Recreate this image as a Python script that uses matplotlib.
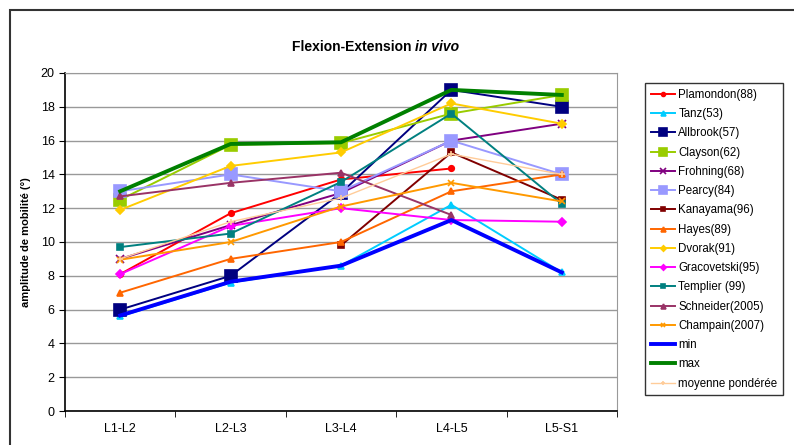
import numpy as np
import matplotlib.pyplot as plt
from matplotlib.patches import Rectangle

plt.rcParams['font.family'] = ['Liberation Sans', 'DejaVu Sans']

nan = np.nan
levels = ['L1-L2', 'L2-L3', 'L3-L4', 'L4-L5', 'L5-S1']

plamondon = [8.1, 11.7, 13.7, 14.35, nan]
tanz = [5.6, 7.6, 8.6, 12.2, 8.2]
allbrook = [6.0, 8.0, 12.9, 19.0, 18.0]
clayson = [12.5, 15.75, 15.85, 17.6, 18.7]
frohning = [9.0, 11.0, 12.9, 16.0, 17.0]
pearcy = [13.0, 14.0, 13.0, 16.0, 14.0]
kanayama = [nan, nan, 9.8, 15.3, 12.5]
hayes = [7.0, 9.0, 10.0, 13.0, 14.0]
dvorak = [11.9, 14.5, 15.3, 18.2, 17.0]
gracovetski = [8.1, 10.95, 12.0, 11.3, 11.2]
templier = [9.7, 10.5, 13.55, 17.6, 12.25]
schneider = [12.7, 13.5, 14.1, 11.6, nan]
champain = [8.95, 10.0, 12.1, 13.5, 12.4]
serie_min = [5.65, 7.65, 8.6, 11.3, 8.2]
serie_max = [13.0, 15.8, 15.9, 19.0, 18.7]
moyenne = [9.0, 11.2, 12.6, 15.2, 14.0]

# name, values, colour, marker, marker size, line width
series = [
    ('Plamondon(88)', plamondon, '#FF0000', 'o', 4, 1.4),
    ('Tanz(53)', tanz, '#00CCFF', '^', 5, 1.4),
    ('Allbrook(57)', allbrook, '#000080', 's', 8, 1.4),
    ('Clayson(62)', clayson, '#99CC00', 's', 8, 1.4),
    ('Frohning(68)', frohning, '#800080', 'x', 6, 1.4),
    ('Pearcy(84)', pearcy, '#9999FF', 's', 8, 1.4),
    ('Kanayama(96)', kanayama, '#800000', 's', 5, 1.4),
    ('Hayes(89)', hayes, '#FF6600', '^', 5, 1.4),
    ('Dvorak(91)', dvorak, '#FFCC00', 'D', 4, 1.4),
    ('Gracovetski(95)', gracovetski, '#FF00FF', 'D', 4, 1.4),
    ('Templier (99)', templier, '#008080', 's', 5, 1.4),
    ('Schneider(2005)', schneider, '#993366', '^', 5, 1.4),
    ('Champain(2007)', champain, '#FF9900', 'x', 4, 1.4),
    ('min', serie_min, '#0000FF', None, 0, 2.8),
    ('max', serie_max, '#008000', None, 0, 2.8),
    ('moyenne pondérée', moyenne, '#FFCC99', '+', 4, 1.0),
]

fig = plt.figure(figsize=(7.94, 4.45), dpi=100)
fig.patches.append(Rectangle((10 / 794, -0.1), 1.2, (445 - 10) / 445 + 0.1,
                             transform=fig.transFigure, fill=False,
                             edgecolor='#333333', linewidth=1.5))
ax = fig.add_axes([65 / 794, 34 / 445, 552 / 794, 338 / 445])

x = np.arange(len(levels))
for name, vals, col, mk, ms, lw in series:
    ax.plot(x, vals, color=col, marker=mk, markersize=ms, linewidth=lw,
            markeredgecolor=col, markeredgewidth=1.2, label=name)

ax.set_xlim(-0.5, 4.5)
ax.set_ylim(0, 20)
ax.set_yticks(range(0, 21, 2))
ax.set_xticks(x)
ax.set_xticklabels(levels)
ax.set_xticks(np.arange(-0.5, 5, 1), minor=True)
ax.tick_params(axis='x', which='major', length=0, pad=9, labelsize=9)
ax.tick_params(axis='x', which='minor', length=4, direction='out')
ax.tick_params(axis='y', length=4, direction='out', labelsize=9)
ax.grid(axis='y', color='#999999', linewidth=1)
ax.set_axisbelow(True)
for s in ['top', 'right']:
    ax.spines[s].set_color('#999999')
ax.spines['left'].set_linewidth(1.2)
ax.spines['bottom'].set_linewidth(1.2)

ax.set_ylabel('amplitude de mobilité (°)', fontsize=8, fontweight='bold', labelpad=7)

# title: bold part + bold italic part
t1 = fig.text(292 / 794, 1 - 47 / 445, 'Flexion-Extension ',
              ha='left', va='center', fontsize=10, fontweight='bold')
ax.annotate('in vivo', xy=(1, 0), xycoords=t1, va='bottom', ha='left',
            fontsize=10, fontweight='bold', fontstyle='italic')

leg = ax.legend(loc='upper left', bbox_to_anchor=(645 / 794, 1 - 83 / 445),
                bbox_transform=fig.transFigure, fontsize=8.3, frameon=True,
                fancybox=False, edgecolor='black', handlelength=2.1,
                labelspacing=0.63, borderpad=0.5, handletextpad=0.3,
                borderaxespad=0, markerscale=0.7)
leg.get_frame().set_linewidth(1.0)

fig.savefig('out.png', dpi=100)
